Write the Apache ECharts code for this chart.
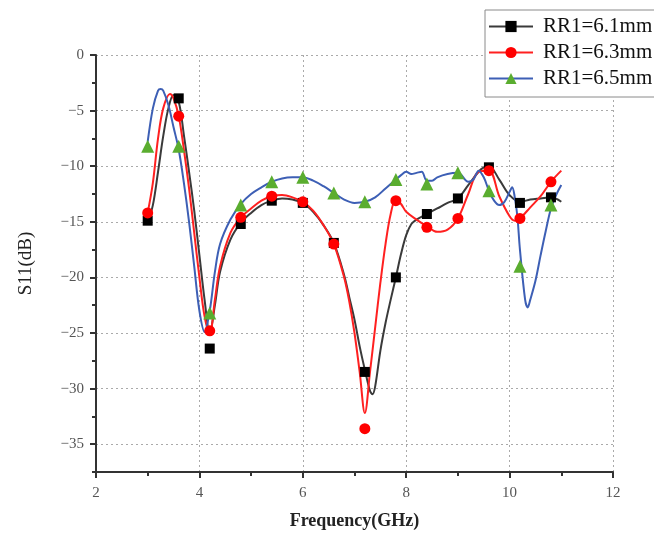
<!DOCTYPE html>
<html>
<head>
<meta charset="UTF-8">
<title>S11</title>
<script src="https://cdn.jsdelivr.net/npm/echarts@6/dist/echarts.min.js"></script>
<style>
  html, body { margin: 0; background: #fff; }
  #chart { width: 654px; height: 539px; }
</style>
</head>
<body>
<div id="chart"></div>
<script>
// simulated curves
var freq61 = [3.0,3.1,3.2,3.3,3.4,3.5,3.6,3.7,3.8,3.9,4.0,4.1,4.2,4.3,4.4,4.6,4.8,5.0,5.2,5.4,5.6,5.8,6.0,6.2,6.4,6.6,6.8,6.9,7.0,7.1,7.2,7.3,7.35,7.4,7.5,7.6,7.7,7.8,7.9,8.0,8.1,8.2,8.4,8.6,8.8,9.0,9.2,9.4,9.5,9.6,9.8,10.0,10.2,10.4,10.6,10.8,11.0];
var s11_61 = [-15.0,-13.5,-10.5,-7.3,-4.8,-3.6,-4.2,-7.2,-10.5,-14.0,-18.0,-22.0,-25.0,-22.5,-19.5,-16.6,-15.1,-14.2,-13.5,-13.1,-12.9,-13.0,-13.3,-14.1,-15.3,-16.9,-19.8,-21.8,-23.8,-26.2,-28.3,-30.2,-30.5,-29.8,-26.6,-24.1,-22.0,-20.0,-17.9,-16.2,-15.2,-14.8,-14.3,-13.8,-13.3,-12.9,-11.7,-10.5,-10.1,-10.0,-11.2,-12.6,-13.2,-13.0,-12.9,-12.8,-13.2];

var freq63 = [3.0,3.1,3.2,3.3,3.43,3.5,3.6,3.7,3.8,3.9,4.0,4.1,4.2,4.3,4.4,4.6,4.8,5.0,5.2,5.4,5.6,5.8,6.0,6.2,6.4,6.6,6.8,6.9,7.0,7.1,7.2,7.3,7.4,7.5,7.6,7.7,7.8,7.9,8.0,8.2,8.4,8.6,8.8,9.0,9.2,9.4,9.6,9.8,10.0,10.1,10.2,10.4,10.6,10.8,11.0];
var s11_63 = [-14.2,-11.5,-7.5,-4.8,-3.5,-3.9,-5.5,-8.5,-12.0,-16.0,-20.0,-23.5,-25.0,-22.0,-19.0,-16.0,-14.6,-13.8,-13.1,-12.7,-12.6,-12.8,-13.2,-14.0,-15.3,-17.0,-20.0,-22.2,-25.0,-28.5,-32.2,-28.5,-24.5,-20.5,-17.0,-14.3,-13.0,-13.4,-14.1,-14.8,-15.4,-15.9,-15.7,-14.7,-12.5,-10.5,-10.4,-12.7,-14.5,-14.9,-14.7,-13.7,-12.7,-11.4,-10.4];

var freq65 = [3.0,3.1,3.2,3.25,3.3,3.4,3.5,3.6,3.7,3.8,3.9,4.0,4.1,4.2,4.3,4.4,4.6,4.8,5.0,5.2,5.4,5.6,5.8,6.0,6.2,6.4,6.6,6.8,7.0,7.2,7.4,7.6,7.8,7.9,8.0,8.1,8.2,8.3,8.4,8.5,8.6,8.8,9.0,9.2,9.3,9.4,9.5,9.6,9.7,9.8,9.9,10.0,10.05,10.1,10.15,10.2,10.3,10.35,10.4,10.5,10.6,10.7,10.8,10.9,11.0];
var s11_65 = [-7.8,-4.8,-3.2,-3.05,-3.2,-4.5,-6.5,-8.5,-11.5,-15.0,-19.0,-23.0,-24.9,-23.0,-19.5,-17.0,-14.8,-13.4,-12.5,-11.9,-11.4,-11.1,-11.0,-11.0,-11.3,-11.8,-12.4,-13.0,-13.3,-13.2,-12.8,-12.0,-11.2,-10.8,-10.5,-10.7,-10.6,-10.5,-11.3,-11.3,-11.0,-10.7,-10.6,-11.4,-11.2,-10.4,-11.0,-12.2,-13.1,-13.5,-13.2,-12.3,-11.9,-12.8,-14.5,-17.5,-22.0,-22.7,-22.0,-20.3,-18.0,-15.8,-13.8,-12.6,-11.7];

// marker points
var markerFreq = [3.0,3.6,4.2,4.8,5.4,6.0,6.6,7.2,7.8,8.4,9.0,9.6,10.2,10.8];
var mark61 = [-14.9,-3.9,-26.4,-15.2,-13.1,-13.3,-16.9,-28.5,-20.0,-14.3,-12.9,-10.1,-13.3,-12.8];
var mark63 = [-14.2,-5.5,-24.8,-14.6,-12.7,-13.2,-17.0,-33.6,-13.1,-15.5,-14.7,-10.4,-14.7,-11.4];
var mark65 = [-8.2,-8.2,-23.2,-13.5,-11.4,-11.0,-12.4,-13.2,-11.2,-11.6,-10.6,-12.2,-19.0,-13.5];

var names = ['RR1=6.1mm', 'RR1=6.3mm', 'RR1=6.5mm'];

// y ticks: labelled majors and the short ones in between
var yMajor = [-35, -30, -25, -20, -15, -10, -5, 0];
var yMinor = [-37.5, -32.5, -27.5, -22.5, -17.5, -12.5, -7.5, -2.5];

function pairs(xs, ys) {
    var out = [];
    for (var i = 0; i < xs.length; i++) out.push([xs[i], ys[i]]);
    return out;
}

var serif = '"Liberation Serif", "DejaVu Serif", serif';
var axisColor = '#333';

var lines = [
    {name: names[0], x: freq61, y: s11_61, color: '#3a3a3a', mcolor: '#000000', symbol: 'rect', size: 10},
    {name: names[1], x: freq63, y: s11_63, color: '#ff2020', mcolor: '#ff0000', symbol: 'circle', size: 11},
    {name: names[2], x: freq65, y: s11_65, color: '#3d5fb5', mcolor: '#5aad2f', symbol: 'triangle', size: 13}
];
var markers = [mark61, mark63, mark65];

var series = [];
lines.forEach(function (l) {
    series.push({
        name: l.name,
        type: 'line',
        data: pairs(l.x, l.y),
        smooth: 0.35,
        showSymbol: false,
        symbol: l.symbol,
        symbolSize: l.size,
        lineStyle: {color: l.color, width: 2},
        itemStyle: {color: l.mcolor},
        z: 2
    });
});
lines.forEach(function (l, i) {
    series.push({
        name: l.name,
        type: 'scatter',
        data: pairs(markerFreq, markers[i]),
        symbol: l.symbol,
        symbolSize: l.size,
        itemStyle: {color: l.mcolor, opacity: 1},
        z: 3
    });
});

function minus(v) {
    return String(v).replace('-', '\u2212');
}

var chart = echarts.init(document.getElementById('chart'));
chart.setOption({
    animation: false,
    backgroundColor: '#fff',
    grid: {left: 96, right: 41, top: 55, bottom: 67},
    legend: {
        data: names,
        orient: 'vertical',
        left: 485,
        top: 10,
        itemWidth: 44,
        itemHeight: 14,
        itemGap: 5,
        padding: [6, 60, 8, 3],
        borderColor: '#8a8a8a',
        borderWidth: 1,
        backgroundColor: '#fff',
        textStyle: {fontFamily: serif, fontSize: 21, color: '#111', padding: [0, 0, 0, 5]}
    },
    xAxis: {
        type: 'value',
        min: 2, max: 12, interval: 2,
        name: 'Frequency(GHz)',
        nameLocation: 'middle',
        nameGap: 40,
        nameTextStyle: {fontFamily: serif, fontSize: 18, fontWeight: 'bold', color: '#222'},
        axisLine: {show: true, onZero: false, lineStyle: {color: axisColor, width: 2}},
        axisTick: {show: true, length: 6, lineStyle: {color: axisColor, width: 2}},
        minorTick: {show: true, splitNumber: 2, length: 4, lineStyle: {color: axisColor, width: 2}},
        axisLabel: {fontFamily: serif, fontSize: 15, color: '#555', margin: 14},
        splitLine: {show: true, lineStyle: {color: '#aaa', type: [2, 3], width: 1}}
    },
    yAxis: [{
        type: 'value',
        min: -37.5, max: 0, interval: 2.5,
        name: 'S11(dB)',
        nameLocation: 'middle',
        nameGap: 60,
        nameTextStyle: {fontFamily: serif, fontSize: 19, color: '#222'},
        axisLine: {show: true, onZero: false, lineStyle: {color: axisColor, width: 2}},
        axisTick: {show: true, length: 6, customValues: yMajor, lineStyle: {color: axisColor, width: 2}},
        axisLabel: {fontFamily: serif, fontSize: 15, color: '#555', margin: 12, customValues: yMajor, formatter: minus},
        splitLine: {show: true, lineStyle: {color: '#aaa', type: [2, 3], width: 1}}
    }, {
        type: 'value',
        position: 'left',
        min: -37.5, max: 0, interval: 2.5,
        axisLine: {show: false},
        axisTick: {show: true, length: 4, customValues: yMinor, lineStyle: {color: axisColor, width: 2}},
        axisLabel: {show: false},
        splitLine: {show: false}
    }],
    series: series
});
</script>
</body>
</html>
